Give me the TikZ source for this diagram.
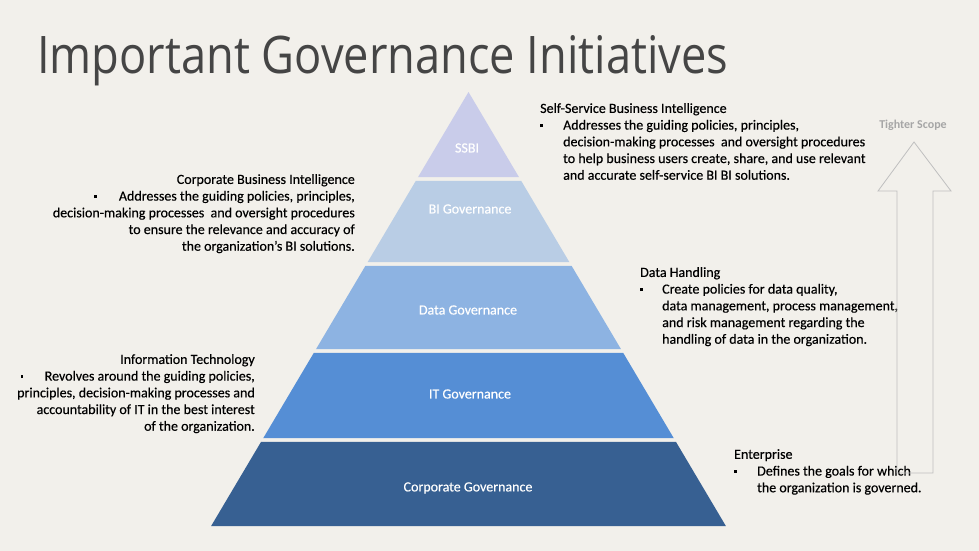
\documentclass[tikz,border=0pt]{standalone}
\usepackage{fontspec}
\setmainfont{Carlito}
\newfontfamily\titlefont{Open Sans}
\newfontfamily\bodyfont{Carlito}[FakeBold=0.35]
\definecolor{bgcol}{HTML}{F2F0EB}
\definecolor{ssbicol}{HTML}{C9CCEA}
\definecolor{bicol}{HTML}{B9CDE5}
\definecolor{datacol}{HTML}{8DB3E2}
\definecolor{itcol}{HTML}{558ED5}
\definecolor{corpcol}{HTML}{376092}
\definecolor{titlecol}{HTML}{454545}
\definecolor{arrowcol}{HTML}{BFBFBF}
\definecolor{scopecol}{HTML}{A6A6A6}
\newcommand{\sqbullet}{\raisebox{2.6pt}{\rule{2.6pt}{2.6pt}}}
\tikzset{
  layerlabel/.style={text=white, font=\bodyfont\fontsize{14}{16}\selectfont, inner sep=0pt},
  infotext/.style={text=black, font=\bodyfont\fontsize{14}{16.7}\selectfont, inner sep=0pt}
}
\newcommand{\pyrband}[3]{%
  \fill[#3] ({468.5-0.593*(#1-92)},#1) -- ({468.5+0.593*(#1-92)},#1) --
    ({468.5+0.593*(#2-92)},#2) -- ({468.5-0.593*(#2-92)},#2) -- cycle;
}
\begin{document}
\begin{tikzpicture}[x=1pt,y=-1pt]
\useasboundingbox (0,0) rectangle (979,551);
\fill[bgcol] (0,0) rectangle (979,551);

% title
\node[anchor=base west, inner sep=0pt, text=titlecol] (title) at (37,73)
  {\resizebox{691pt}{38pt}{\titlefont\fontsize{54}{60}\selectfont Important Governance Initiatives}};

% pyramid
\pyrband{92}{177.2}{ssbicol}
\pyrband{180.8}{262.2}{bicol}
\pyrband{265.8}{349.2}{datacol}
\pyrband{352.8}{438.2}{itcol}
\pyrband{441.8}{526}{corpcol}

\node[layerlabel] (ssbi) at (467,148) {SSBI};
\node[layerlabel] (bigov) at (470,209) {BI Governance};
\node[layerlabel] (datagov) at (468,310) {Data Governance};
\node[layerlabel] (itgov) at (470,394) {IT Governance};
\node[layerlabel] (corpgov) at (468,488) {Corporate Governance};

% text blocks
\node[infotext, anchor=north west, align=left] (ssbitext) at (540,103)
  {Self-Service Business Intelligence\\
   \makebox[23pt][l]{\sqbullet}Addresses the guiding policies, principles,\\
   \hspace*{23pt}decision-making processes\ \ and oversight procedures\\
   \hspace*{23pt}to help business users create, share, and use relevant\\
   \hspace*{23pt}and accurate self-service BI BI solutions.};

\node[infotext, anchor=north east, align=right] (cbitext) at (355,174)
  {Corporate Business Intelligence\\
   \makebox[25pt][l]{\sqbullet}Addresses the guiding policies, principles,\\
   decision-making processes\ \ and oversight procedures\\
   to ensure the relevance and accuracy of\\
   the organization’s BI solutions.};

\node[infotext, anchor=north west, align=left] (datatext) at (640,267)
  {Data Handling\\
   \makebox[22pt][l]{\sqbullet}Create policies for data quality,\\
   \hspace*{22pt}data management, process management,\\
   \hspace*{22pt}and risk management regarding the\\
   \hspace*{22pt}handling of data in the organization.};

\node[infotext, anchor=north east, align=right] (ittext) at (255,354)
  {Information Technology\\
   \makebox[24pt][l]{\sqbullet}Revolves around the guiding policies,\\
   principles, decision-making processes and\\
   accountability of IT in the best interest\\
   of the organization.};

\node[infotext, anchor=north west, align=left] (enttext) at (734,449)
  {Enterprise\\
   \makebox[23pt][l]{\sqbullet}Defines the goals for which\\
   \hspace*{23pt}the organization is governed.};

% scope arrow
\draw[arrowcol, line width=0.8pt, line join=miter]
  (914,142) -- (951,191) -- (933,191) -- (933,473) -- (897,473) -- (897,191) -- (878,191) -- cycle;
\node[text=scopecol, font=\bfseries\fontsize{12}{14}\selectfont, inner sep=0pt] (scope) at (913,125) {Tighter Scope};
\end{tikzpicture}
\end{document}
